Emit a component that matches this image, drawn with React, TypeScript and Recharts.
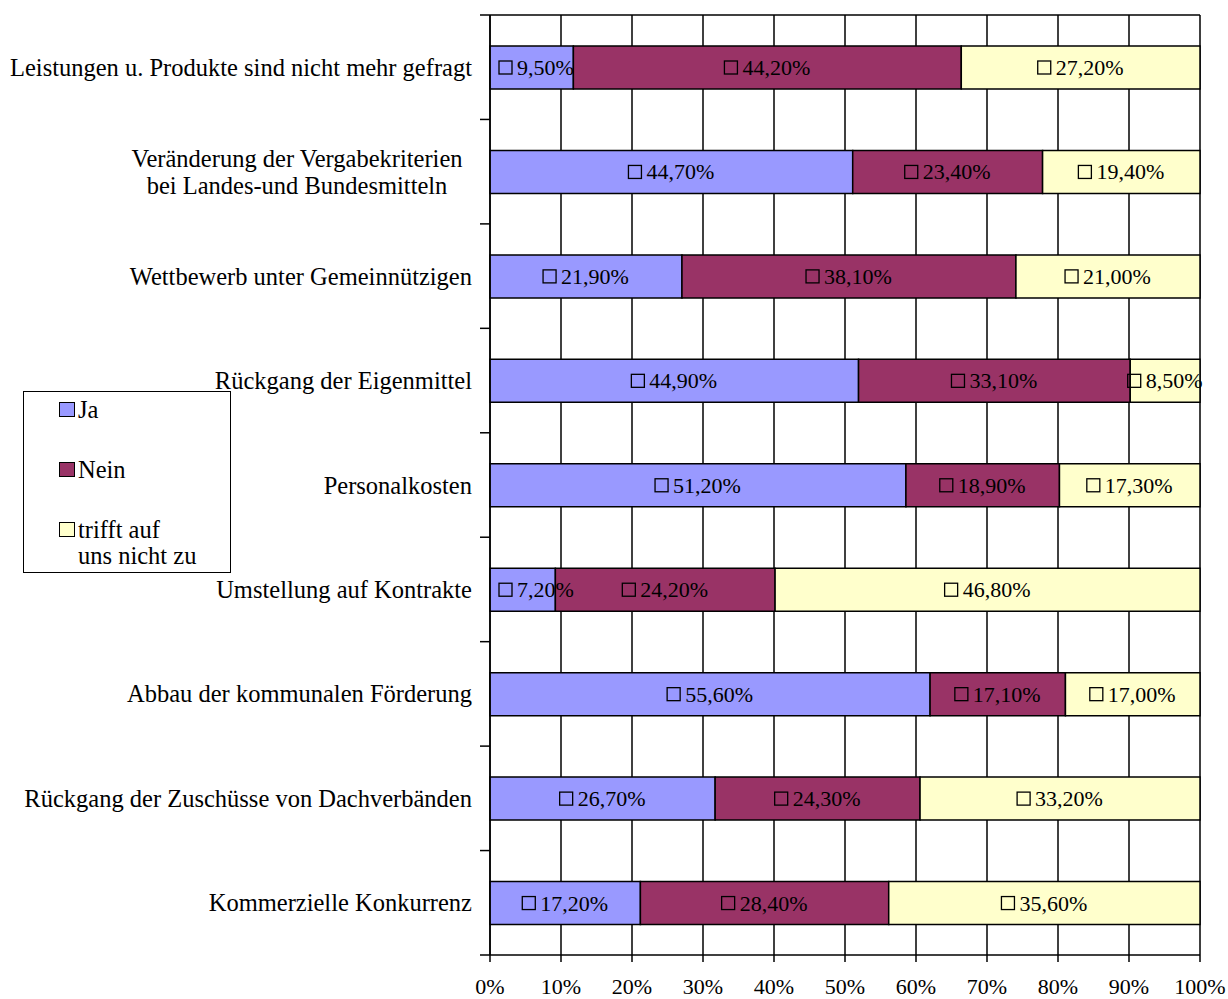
import { BarChart, Bar, XAxis, YAxis, CartesianGrid, LabelList, Legend } from "recharts";

// Survey answers per cause, in percent (rows do not sum to 100; chart is normalised)
const CATEGORIES = [
  "Leistungen u. Produkte sind nicht mehr gefragt",
  "Veränderung der Vergabekriterien\nbei Landes-und Bundesmitteln",
  "Wettbewerb unter Gemeinnützigen",
  "Rückgang der Eigenmittel",
  "Personalkosten",
  "Umstellung auf Kontrakte",
  "Abbau der kommunalen Förderung",
  "Rückgang der Zuschüsse von Dachverbänden",
  "Kommerzielle Konkurrenz",
];
const JA = [9.5, 44.7, 21.9, 44.9, 51.2, 7.2, 55.6, 26.7, 17.2];
const NEIN = [44.2, 23.4, 38.1, 33.1, 18.9, 24.2, 17.1, 24.3, 28.4];
const TRIFFT_NICHT_ZU = [27.2, 19.4, 21.0, 8.5, 17.3, 46.8, 17.0, 33.2, 35.6];
const SERIES_NAMES = ["Ja", "Nein", "trifft auf\nuns nicht zu"];
const X_TICKS = [0, 0.1, 0.2, 0.3, 0.4, 0.5, 0.6, 0.7, 0.8, 0.9, 1];

const SERIF = "'Liberation Serif', 'Times New Roman', serif";
const COLORS = ["#9999FF", "#993366", "#FFFFCC"];
const KEYS = ["ja", "nein", "trifft"];

const W = 1228;
const H = 999;
const MARGIN = { top: 15, right: 28, bottom: 0, left: 0 };
const X_AXIS_H = 44;
const Y_AXIS_W = 490;
const BAND = (H - MARGIN.top - MARGIN.bottom - X_AXIS_H) / CATEGORIES.length;
const CAT_FONT = 24.5;

const data = CATEGORIES.map((name, i) => ({
  name,
  ja: JA[i],
  nein: NEIN[i],
  trifft: TRIFFT_NICHT_ZU[i],
}));

let ctx: CanvasRenderingContext2D | null = null;
function textWidth(s: string, font: string) {
  if (!ctx) ctx = document.createElement("canvas").getContext("2d");
  if (!ctx) return s.length * 10;
  ctx.font = font;
  return ctx.measureText(s).width;
}

const fmt = (v: number) => v.toFixed(2).replace(".", ",") + "%";

function CategoryTick(props: any) {
  const { x, y, payload, index } = props;
  const lines: string[] = String(payload.value).split("\n");
  const axisX = x + 18;
  return (
    <g>
      <line x1={axisX - 10} x2={axisX} y1={y - BAND / 2} y2={y - BAND / 2} stroke="#000" strokeWidth={1.5} />
      {index === CATEGORIES.length - 1 && (
        <line x1={axisX - 10} x2={axisX} y1={y + BAND / 2} y2={y + BAND / 2} stroke="#000" strokeWidth={1.5} />
      )}
      {lines.length === 1 ? (
        <text x={x} y={y} textAnchor="end" dominantBaseline="central" fontFamily={SERIF} fontSize={CAT_FONT} fill="#000">
          {lines[0]}
        </text>
      ) : (
        // wrapped label: lines centred in a 350px box right-aligned to the tick
        <text x={x - 175} y={y} textAnchor="middle" fontFamily={SERIF} fontSize={CAT_FONT} fill="#000">
          {lines.map((l, i) => (
            <tspan key={i} x={x - 175} y={y + (i - (lines.length - 1) / 2) * 27} dominantBaseline="central">
              {l}
            </tspan>
          ))}
        </text>
      )}
    </g>
  );
}

function ValueLabel(props: any) {
  const { x, y, width, height, value } = props;
  const label = fmt(Number(value));
  const tw = textWidth(label, `22px ${SERIF}`);
  const sq = 13;
  const gap = 5;
  const total = sq + gap + tw;
  const cx = x + width / 2;
  const cy = y + height / 2;
  // Excel keeps labels inside the plot on the left side
  const left = Math.max(cx - total / 2, Y_AXIS_W + MARGIN.left + 9);
  return (
    <g>
      <rect x={left} y={cy - sq / 2} width={sq} height={sq} fill="none" stroke="#000" strokeWidth={1.3} />
      <text x={left + sq + gap} y={cy} dominantBaseline="central" fontFamily={SERIF} fontSize={22} fill="#000">
        {label}
      </text>
    </g>
  );
}

function LegendBox() {
  const tops = [5, 65, 125];
  return (
    <div
      style={{
        position: "absolute",
        left: 23,
        top: 391,
        width: 208,
        height: 182,
        boxSizing: "border-box",
        border: "1.5px solid #000",
        background: "#fff",
        fontFamily: SERIF,
        fontSize: CAT_FONT,
        color: "#000",
      }}
    >
      {SERIES_NAMES.map((name, i) => (
        <div key={name} style={{ position: "absolute", left: 35, top: tops[i], display: "flex", alignItems: "flex-start" }}>
          <span
            style={{
              display: "inline-block",
              width: 16,
              height: 15,
              marginTop: 5,
              marginRight: 3,
              boxSizing: "border-box",
              border: "1.5px solid #000",
              background: COLORS[i],
            }}
          />
          <span style={{ whiteSpace: "pre-line", lineHeight: "26px", textAlign: "left" }}>{name}</span>
        </div>
      ))}
    </div>
  );
}

export default function App() {
  return (
    <div style={{ position: "absolute", left: 0, top: 0, width: W, height: H, background: "#fff" }}>
      <BarChart width={W} height={H} data={data} layout="vertical" stackOffset="expand" margin={MARGIN}>
        <CartesianGrid
          horizontalPoints={[MARGIN.top]}
          stroke="#000"
          strokeWidth={1.5}
        />
        <XAxis
          type="number"
          domain={[0, 1]}
          ticks={X_TICKS}
          tickFormatter={(v: number) => `${Math.round(v * 100)}%`}
          height={X_AXIS_H}
          tickSize={7}
          tickMargin={16}
          stroke="#000"
          strokeWidth={1.5}
          tick={{ fill: "#000", fontFamily: SERIF, fontSize: 22 }}
          interval={0}
        />
        <YAxis
          type="category"
          dataKey="name"
          width={Y_AXIS_W}
          tickSize={0}
          tickLine={false}
          tickMargin={18}
          stroke="#000"
          strokeWidth={1.5}
          interval={0}
          tick={<CategoryTick />}
        />
        <Legend content={<LegendBox />} wrapperStyle={{ position: "absolute", left: 0, top: 0, width: 0, height: 0 }} />
        {KEYS.map((k, i) => (
          <Bar
            key={k}
            dataKey={k}
            name={SERIES_NAMES[i]}
            stackId="a"
            fill={COLORS[i]}
            stroke="#000"
            strokeWidth={1.5}
            barSize={43}
            isAnimationActive={false}
          >
            <LabelList dataKey={k} content={<ValueLabel />} />
          </Bar>
        ))}
      </BarChart>
    </div>
  );
}
